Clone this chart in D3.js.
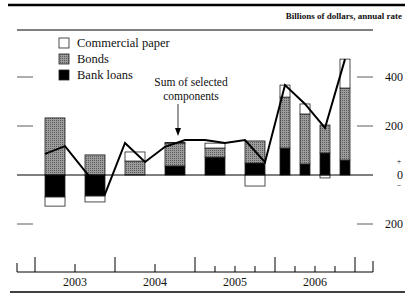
<!DOCTYPE html>
<html><head><meta charset="utf-8">
<script src="https://cdn.jsdelivr.net/npm/d3@7"></script>
<style>body{margin:0;background:#fff}svg{display:block}text{font-family:"Liberation Serif","DejaVu Serif",serif;fill:#111}</style>
</head><body><svg id="c" width="405" height="293"></svg>
<script>
// ---- data ----
const periods = ["2003 H1","2003 H2","2004 H1","2004 H2","2005 H1","2005 H2","2006 Q1","2006 Q2","2006 Q3","2006 Q4"];
const bankLoans = [-90, -86, 0, 37, 73, 49, 110, 45, 90, 61];
const bonds = [233, 82, 57, 93, 37, 90, 208, 204, 114, 294];
const commercialPaper = [-37, -24, 37, 3, 20, -45, 49, 41, -12, 118];
const quarters = ["2003 Q1","2003 Q2","2003 Q3","2003 Q4","2004 Q1","2004 Q2","2004 Q3","2004 Q4",
                  "2005 Q1","2005 Q2","2005 Q3","2005 Q4","2006 Q1","2006 Q2","2006 Q3","2006 Q4"];
const sumComponents = [86, 118, 16, -78, 131, 53, 115, 143, 143, 131, 143, 52, 367, 290, 192, 473];
const years = ["2003","2004","2005","2006"];
const yTicks = [400, 200, 0, -200];
const yTickLabels = ["400","200","0","200"];
const seriesNames = ["Commercial paper","Bonds","Bank loans"];

// ---- helpers ----
const firstYear = +years[0];
function qIndex(label){
  const [y,p] = label.split(" ");
  return (+y - firstYear)*4 + (+p.slice(1) - 1);
}
function periodExtent(label){
  const [y,p] = label.split(" ");
  const base = (+y - firstYear)*4;
  if (p[0] === "H") { const s = base + (+p.slice(1)-1)*2; return [s+0.5, s+1.5]; }
  const q = base + (+p.slice(1)-1); return [q+0.25, q+0.75];
}

const svg = d3.select("#c");
const x = d3.scaleLinear().domain([-0.9, 16.9]).range([17, 373]);
const y = d3.scaleLinear().domain([-200, 400]).range([224, 77]);

// pattern for bonds
const defs = svg.append("defs");
const pat = defs.append("pattern").attr("id","stip").attr("width",2).attr("height",2).attr("patternUnits","userSpaceOnUse");
pat.append("rect").attr("width",2).attr("height",2).attr("fill","#9c9c9c");
pat.append("rect").attr("width",1).attr("height",1).attr("fill","#5a5a5a");
const fills = {"Bank loans":"#000", "Bonds":"url(#stip)", "Commercial paper":"#fff"};

// rules
svg.append("line").attr("x1",8).attr("x2",405).attr("y1",5).attr("y2",5).attr("stroke","#000").attr("stroke-width",2.5);
svg.append("text").attr("x",402).attr("y",19).attr("text-anchor","end").attr("font-size",9).attr("font-weight","bold").text("Billions of dollars, annual rate");
svg.append("line").attr("x1",17).attr("x2",373).attr("y1",30).attr("y2",30).attr("stroke","#000").attr("stroke-width",1);
svg.append("line").attr("x1",10).attr("x2",405).attr("y1",292).attr("y2",292).attr("stroke","#000").attr("stroke-width",1.5);

// y ticks both sides
const yt = svg.append("g");
yt.selectAll("line.l").data(yTicks.filter(d=>d!==0)).join("line").attr("class","l").attr("x1",17).attr("x2",33)
  .attr("y1",d=>y(d)).attr("y2",d=>y(d)).attr("stroke","#333").attr("stroke-width",0.8);
yt.selectAll("line.r").data(yTicks.filter(d=>d!==0)).join("line").attr("class","r").attr("x1",357).attr("x2",373)
  .attr("y1",d=>y(d)).attr("y2",d=>y(d)).attr("stroke","#333").attr("stroke-width",0.8);
yt.selectAll("text").data(yTicks).join("text").attr("x",403).attr("y",d=>y(d)+4).attr("text-anchor","end")
  .attr("font-size",12).text((d,i)=>yTickLabels[i]);
yt.append("text").attr("x",399).attr("y",y(0)-11).attr("text-anchor","middle").attr("font-size",8).text("+");
yt.append("text").attr("x",399).attr("y",y(0)+13).attr("text-anchor","middle").attr("font-size",8).text("\u2212");

// bars (diverging stack: bank loans, bonds, commercial paper)
const order = [["Bank loans",bankLoans],["Bonds",bonds],["Commercial paper",commercialPaper]];
const rects = [];
periods.forEach((p,i)=>{
  let pos=0, neg=0;
  const [a,b] = periodExtent(p);
  order.forEach(([name,arr])=>{
    const v = arr[i];
    if (v===0) return;
    let y0,y1;
    if (v>0){ y0=pos; y1=pos+v; pos=y1; } else { y0=neg; y1=neg+v; neg=y1; }
    rects.push({name,a,b,y0,y1});
  });
});
svg.append("g").selectAll("rect").data(rects).join("rect")
  .attr("x",d=>x(d.a)).attr("width",d=>x(d.b)-x(d.a))
  .attr("y",d=>y(Math.max(d.y0,d.y1))).attr("height",d=>Math.abs(y(d.y0)-y(d.y1)))
  .attr("fill",d=>fills[d.name]).attr("stroke","#222").attr("stroke-width",0.8);

// zero line
svg.append("line").attr("x1",17).attr("x2",373).attr("y1",y(0)).attr("y2",y(0)).attr("stroke","#000").attr("stroke-width",1);

// sum line
const line = d3.line().x((d,i)=>x(qIndex(quarters[i])+0.5)).y(d=>y(d));
svg.append("path").datum(sumComponents).attr("d",line).attr("fill","none").attr("stroke","#000").attr("stroke-width",2);

// bottom axis
const axY = 272;
svg.append("line").attr("x1",17).attr("x2",373).attr("y1",axY).attr("y2",axY).attr("stroke","#000").attr("stroke-width",1);
const tickDefs = [];
for (let q=0;q<=16;q++){
  if (q%4===0) tickDefs.push({q,h:15});
  else if (q%2===0 && q<8) tickDefs.push({q,h:8});
  else if (q>=8) tickDefs.push({q,h:6});
}
svg.append("g").selectAll("line").data(tickDefs).join("line")
  .attr("x1",d=>x(d.q)).attr("x2",d=>x(d.q)).attr("y1",axY).attr("y2",d=>axY-d.h).attr("stroke","#000").attr("stroke-width",1);
svg.append("line").attr("x1",x(-0.9)).attr("x2",x(-0.9)).attr("y1",axY).attr("y2",axY-9).attr("stroke","#000");
svg.append("line").attr("x1",x(16.9)).attr("x2",x(16.9)).attr("y1",axY).attr("y2",axY-11).attr("stroke","#000");
svg.append("g").selectAll("text").data(years).join("text").attr("x",(d,i)=>x(i*4+2)).attr("y",286)
  .attr("text-anchor","middle").attr("font-size",12).text(d=>d);

// legend
const lg = svg.append("g");
seriesNames.forEach((n,i)=>{
  const yy = 38 + i*16;
  lg.append("rect").attr("x",59).attr("y",yy).attr("width",10).attr("height",10).attr("fill",fills[n]).attr("stroke","#222").attr("stroke-width",0.8);
  lg.append("text").attr("x",77).attr("y",yy+9).attr("font-size",12.5).text(n);
});

// annotation
svg.append("text").attr("x",191).attr("y",86).attr("text-anchor","middle").attr("font-size",11.5).text("Sum of selected");
svg.append("text").attr("x",191).attr("y",100).attr("text-anchor","middle").attr("font-size",11.5).text("components");
const ax = x(qIndex("2004 Q4")+0.15);
svg.append("line").attr("x1",ax).attr("x2",ax).attr("y1",104).attr("y2",130).attr("stroke","#000").attr("stroke-width",0.8);
svg.append("path").attr("d",`M${ax-3},128L${ax+3},128L${ax},136Z`).attr("fill","#000");
</script></body></html>
